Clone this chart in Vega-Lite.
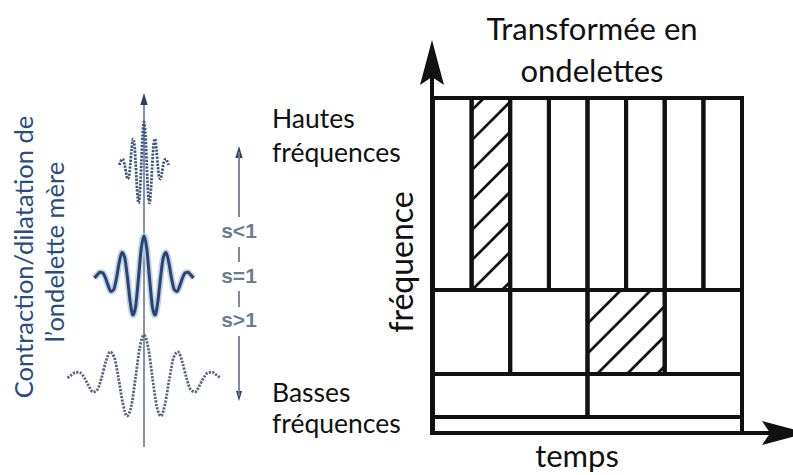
{
  "$schema": "https://vega.github.io/schema/vega-lite/v6.json",
  "width": 793,
  "height": 475,
  "autosize": {"type": "none"},
  "padding": 0,
  "background": "white",
  "config": {"view": {"stroke": null}},
  "datasets": {
    "wavelets": [
      {"w":"s<1","x":119.25,"y":165},{"w":"s<1","x":120.63,"y":161.8},{"w":"s<1","x":122,"y":159.2},{"w":"s<1","x":123.38,"y":159.8},{"w":"s<1","x":124.75,"y":165},{"w":"s<1","x":126.13,"y":173.1},{"w":"s<1","x":127.5,"y":179},{"w":"s<1","x":128.88,"y":176.8},{"w":"s<1","x":130.25,"y":165},{"w":"s<1","x":131.63,"y":148.9},{"w":"s<1","x":133,"y":138.9},{"w":"s<1","x":134.38,"y":144.3},{"w":"s<1","x":135.75,"y":165},{"w":"s<1","x":137.13,"y":190},{"w":"s<1","x":138.5,"y":203},{"w":"s<1","x":139.88,"y":193.3},{"w":"s<1","x":141.25,"y":165},{"w":"s<1","x":142.63,"y":134.8},{"w":"s<1","x":144,"y":122},{"w":"s<1","x":145.38,"y":134.8},{"w":"s<1","x":146.75,"y":165},{"w":"s<1","x":148.13,"y":193.3},{"w":"s<1","x":149.5,"y":203},{"w":"s<1","x":150.88,"y":190},{"w":"s<1","x":152.25,"y":165},{"w":"s<1","x":153.63,"y":144.3},{"w":"s<1","x":155,"y":138.9},{"w":"s<1","x":156.38,"y":148.9},{"w":"s<1","x":157.75,"y":165},{"w":"s<1","x":159.13,"y":176.8},{"w":"s<1","x":160.5,"y":179},{"w":"s<1","x":161.88,"y":173.1},{"w":"s<1","x":163.25,"y":165},{"w":"s<1","x":164.63,"y":159.8},{"w":"s<1","x":166,"y":159.2},{"w":"s<1","x":167.38,"y":161.8},{"w":"s<1","x":168.75,"y":165},
      {"w":"s=1","x":94.5,"y":278},{"w":"s=1","x":97.25,"y":274.9},{"w":"s=1","x":100,"y":272.3},{"w":"s=1","x":102.75,"y":272.9},{"w":"s=1","x":105.5,"y":278},{"w":"s=1","x":108.25,"y":285.9},{"w":"s=1","x":111,"y":291.6},{"w":"s=1","x":113.75,"y":289.5},{"w":"s=1","x":116.5,"y":278},{"w":"s=1","x":119.25,"y":262.2},{"w":"s=1","x":122,"y":252.5},{"w":"s=1","x":124.75,"y":257.8},{"w":"s=1","x":127.5,"y":278},{"w":"s=1","x":130.25,"y":302.4},{"w":"s=1","x":133,"y":315.1},{"w":"s=1","x":135.75,"y":305.7},{"w":"s=1","x":138.5,"y":278},{"w":"s=1","x":141.25,"y":248.5},{"w":"s=1","x":144,"y":236},{"w":"s=1","x":146.75,"y":248.5},{"w":"s=1","x":149.5,"y":278},{"w":"s=1","x":152.25,"y":305.7},{"w":"s=1","x":155,"y":315.1},{"w":"s=1","x":157.75,"y":302.4},{"w":"s=1","x":160.5,"y":278},{"w":"s=1","x":163.25,"y":257.8},{"w":"s=1","x":166,"y":252.5},{"w":"s=1","x":168.75,"y":262.2},{"w":"s=1","x":171.5,"y":278},{"w":"s=1","x":174.25,"y":289.5},{"w":"s=1","x":177,"y":291.6},{"w":"s=1","x":179.75,"y":285.9},{"w":"s=1","x":182.5,"y":278},{"w":"s=1","x":185.25,"y":272.9},{"w":"s=1","x":188,"y":272.3},{"w":"s=1","x":190.75,"y":274.9},{"w":"s=1","x":193.5,"y":278},
      {"w":"s>1","x":67.5,"y":378},{"w":"s>1","x":71.75,"y":374.8},{"w":"s>1","x":76,"y":372.2},{"w":"s>1","x":80.25,"y":372.8},{"w":"s>1","x":84.5,"y":378},{"w":"s>1","x":88.75,"y":386.1},{"w":"s>1","x":93,"y":392},{"w":"s>1","x":97.25,"y":389.8},{"w":"s>1","x":101.5,"y":378},{"w":"s>1","x":105.75,"y":361.9},{"w":"s>1","x":110,"y":351.9},{"w":"s>1","x":114.25,"y":357.3},{"w":"s>1","x":118.5,"y":378},{"w":"s>1","x":122.75,"y":403},{"w":"s>1","x":127,"y":416},{"w":"s>1","x":131.25,"y":406.3},{"w":"s>1","x":135.5,"y":378},{"w":"s>1","x":139.75,"y":347.8},{"w":"s>1","x":144,"y":335},{"w":"s>1","x":148.25,"y":347.8},{"w":"s>1","x":152.5,"y":378},{"w":"s>1","x":156.75,"y":406.3},{"w":"s>1","x":161,"y":416},{"w":"s>1","x":165.25,"y":403},{"w":"s>1","x":169.5,"y":378},{"w":"s>1","x":173.75,"y":357.3},{"w":"s>1","x":178,"y":351.9},{"w":"s>1","x":182.25,"y":361.9},{"w":"s>1","x":186.5,"y":378},{"w":"s>1","x":190.75,"y":389.8},{"w":"s>1","x":195,"y":392},{"w":"s>1","x":199.25,"y":386.1},{"w":"s>1","x":203.5,"y":378},{"w":"s>1","x":207.75,"y":372.8},{"w":"s>1","x":212,"y":372.2},{"w":"s>1","x":216.25,"y":374.8},{"w":"s>1","x":220.5,"y":378}
    ]
  },
  "encoding": {
    "x": {"field": "x", "type": "quantitative", "scale": {"domain": [0, 793], "nice": false, "zero": false}, "axis": null},
    "y": {"field": "y", "type": "quantitative", "scale": {"domain": [0, 475], "reverse": true, "nice": false, "zero": false}, "axis": null}
  },
  "layer": [
    {
      "data": {"values": [{"x": 144, "y": 104, "x2": 144, "y2": 447}]},
      "mark": {"type": "rule", "color": "#8593aa", "strokeWidth": 2},
      "encoding": {"x2": {"field": "x2"}, "y2": {"field": "y2"}}
    },
    {
      "data": {"name": "wavelets"},
      "transform": [{"filter": "datum.w !== 's=1'"}],
      "mark": {"type": "line", "interpolate": "monotone", "strokeWidth": 2.8, "strokeDash": [2.2, 1.3]},
      "encoding": {
        "detail": {"field": "w"},
        "color": {"field": "w", "type": "nominal", "scale": {"domain": ["s<1", "s=1", "s>1"], "range": ["#3a5580", "#1f3f70", "#56647c"]}, "legend": null}
      }
    },
    {
      "data": {"name": "wavelets"},
      "transform": [{"filter": "datum.w === 's=1'"}],
      "mark": {"type": "line", "interpolate": "monotone", "strokeWidth": 6.5, "color": "#c3cddc", "opacity": 0.9},
      "encoding": {}
    },
    {
      "data": {"name": "wavelets"},
      "transform": [{"filter": "datum.w === 's=1'"}],
      "mark": {"type": "line", "interpolate": "monotone", "strokeWidth": 3, "color": "#244577"},
      "encoding": {}
    },
    {
      "data": {"values": [{"x": 144, "y": 99}, {"x": 239, "y": 152}]},
      "mark": {"type": "point", "shape": "M0,-1L0.6,1L-0.6,1Z", "filled": true, "size": 150, "color": "#2c3f66", "opacity": 1}
    },
    {
      "data": {"values": [{"x": 239, "y": 396}]},
      "mark": {"type": "point", "shape": "M0,-1L0.6,1L-0.6,1Z", "filled": true, "size": 100, "angle": 180, "color": "#2c3f66", "opacity": 1}
    },
    {
      "data": {"values": [
        {"x": 239, "y": 152, "x2": 239, "y2": 217},
        {"x": 239, "y": 247, "x2": 239, "y2": 262},
        {"x": 239, "y": 291, "x2": 239, "y2": 307},
        {"x": 239, "y": 336, "x2": 239, "y2": 396}
      ]},
      "mark": {"type": "rule", "color": "#6f7d96", "strokeWidth": 1.8},
      "encoding": {"x2": {"field": "x2"}, "y2": {"field": "y2"}}
    },
    {
      "data": {"values": [
        {"x": 239, "y": 232, "text": "s<1"},
        {"x": 239, "y": 277, "text": "s=1"},
        {"x": 239, "y": 321, "text": "s>1"}
      ]},
      "mark": {"type": "text", "font": "Liberation Sans", "fontWeight": "bold", "fontSize": 21, "align": "center", "baseline": "middle", "color": "#6e7c91"},
      "encoding": {"text": {"field": "text"}}
    },
    {
      "data": {"values": [
        {"x": 33, "y": 257, "text": "Contraction/dilatation de"},
        {"x": 64, "y": 252, "text": "l’ondelette mère"}
      ]},
      "mark": {"type": "text", "font": "Lato", "fontSize": 25.5, "angle": 270, "align": "center", "baseline": "alphabetic", "color": "#2b4b82"},
      "encoding": {"text": {"field": "text"}}
    },
    {
      "data": {"values": [
        {"x": 471.6, "y": 110.4, "x2": 484, "y2": 98},
        {"x": 471.6, "y": 140.4, "x2": 510.2, "y2": 101.8},
        {"x": 471.6, "y": 170.4, "x2": 510.2, "y2": 131.8},
        {"x": 471.6, "y": 200.4, "x2": 510.2, "y2": 161.8},
        {"x": 471.6, "y": 230.4, "x2": 510.2, "y2": 191.8},
        {"x": 471.6, "y": 260.4, "x2": 510.2, "y2": 221.8},
        {"x": 472, "y": 290, "x2": 510.2, "y2": 251.8},
        {"x": 502, "y": 290, "x2": 510.2, "y2": 281.8},
        {"x": 587.5, "y": 323.5, "x2": 621, "y2": 290},
        {"x": 587.5, "y": 353.5, "x2": 651, "y2": 290},
        {"x": 597, "y": 374, "x2": 664.7, "y2": 306.3},
        {"x": 627, "y": 374, "x2": 664.7, "y2": 336.3},
        {"x": 657, "y": 374, "x2": 664.7, "y2": 366.3}
      ]},
      "mark": {"type": "rule", "color": "#111111", "strokeWidth": 2.7},
      "encoding": {"x2": {"field": "x2"}, "y2": {"field": "y2"}}
    },
    {
      "data": {"values": [
        {"x": 433, "x2": 471.6, "y": 98, "y2": 290},
        {"x": 471.6, "x2": 510.2, "y": 98, "y2": 290},
        {"x": 510.2, "x2": 548.9, "y": 98, "y2": 290},
        {"x": 548.9, "x2": 587.5, "y": 98, "y2": 290},
        {"x": 587.5, "x2": 626.1, "y": 98, "y2": 290},
        {"x": 626.1, "x2": 664.7, "y": 98, "y2": 290},
        {"x": 664.7, "x2": 703.4, "y": 98, "y2": 290},
        {"x": 703.4, "x2": 742, "y": 98, "y2": 290},
        {"x": 433, "x2": 510.2, "y": 290, "y2": 374},
        {"x": 510.2, "x2": 587.5, "y": 290, "y2": 374},
        {"x": 587.5, "x2": 664.7, "y": 290, "y2": 374},
        {"x": 664.7, "x2": 742, "y": 290, "y2": 374},
        {"x": 433, "x2": 587.5, "y": 374, "y2": 417},
        {"x": 587.5, "x2": 742, "y": 374, "y2": 417},
        {"x": 433, "x2": 742, "y": 417, "y2": 433}
      ]},
      "mark": {"type": "rect", "fill": "white", "fillOpacity": 0, "stroke": "#111111", "strokeWidth": 4},
      "encoding": {"x2": {"field": "x2"}, "y2": {"field": "y2"}}
    },
    {
      "data": {"values": [
        {"x": 432, "y": 433, "x2": 432, "y2": 70},
        {"x": 432, "y": 433, "x2": 775, "y2": 433}
      ]},
      "mark": {"type": "rule", "color": "#111111", "strokeWidth": 4, "strokeCap": "square"},
      "encoding": {"x2": {"field": "x2"}, "y2": {"field": "y2"}}
    },
    {
      "data": {"values": [{"x": 432, "y": 62.5}]},
      "mark": {"type": "point", "shape": "M0,-1L0.533,1L0,0.64L-0.533,1Z", "filled": true, "size": 2025, "color": "#111111", "opacity": 1}
    },
    {
      "data": {"values": [{"x": 784.5, "y": 433}]},
      "mark": {"type": "point", "shape": "M0,-1L0.533,1L0,0.64L-0.533,1Z", "filled": true, "size": 2025, "angle": 90, "color": "#111111", "opacity": 1}
    },
    {
      "data": {"values": [
        {"x": 592, "y": 40, "text": "Transformée en"},
        {"x": 592, "y": 82, "text": "ondelettes"},
        {"x": 577, "y": 467, "text": "temps"}
      ]},
      "mark": {"type": "text", "font": "Lato", "fontSize": 31, "align": "center", "baseline": "alphabetic", "color": "#111111"},
      "encoding": {"text": {"field": "text"}}
    },
    {
      "data": {"values": [
        {"x": 272, "y": 128, "text": "Hautes"},
        {"x": 272, "y": 162, "text": "fréquences"},
        {"x": 272, "y": 402, "text": "Basses"},
        {"x": 272, "y": 433, "text": "fréquences"}
      ]},
      "mark": {"type": "text", "font": "Lato", "fontSize": 26.5, "align": "left", "baseline": "alphabetic", "color": "#111111"},
      "encoding": {"text": {"field": "text"}}
    },
    {
      "data": {"values": [{"x": 413, "y": 262, "text": "fréquence"}]},
      "mark": {"type": "text", "font": "Lato", "fontSize": 32, "angle": 270, "align": "center", "baseline": "alphabetic", "color": "#111111"},
      "encoding": {"text": {"field": "text"}}
    }
  ]
}
